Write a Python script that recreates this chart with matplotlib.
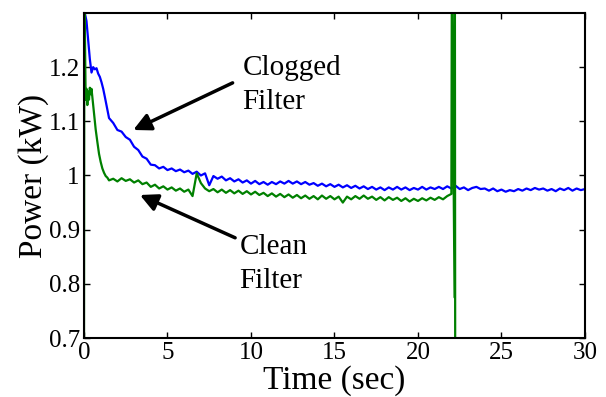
import numpy as np
import matplotlib
matplotlib.use("Agg")
import matplotlib.pyplot as plt

# =========================
# DATA
# =========================

# clogged filter - first second, uneven sampling
clog_t_start = [0.05, 0.15, 0.25, 0.35, 0.45, 0.55, 0.65, 0.75, 0.85, 0.95,
                1.05, 1.15, 1.25, 1.50, 1.75]
clog_p_start = [1.300, 1.285, 1.250, 1.215, 1.190, 1.200, 1.196, 1.198, 1.188, 1.182,
                1.172, 1.160, 1.145, 1.106, 1.097]

# clogged filter - 2 s to 30 s, four samples per second (one row = one second)
clog_p_rest = [
    1.084, 1.081, 1.071, 1.066,
    1.053, 1.047, 1.035, 1.031,
    1.020, 1.019, 1.013, 1.016,
    1.010, 1.013, 1.008, 1.011,
    1.006, 1.009, 1.003, 1.007,
    1.000, 1.004, 0.982, 0.999,
    0.994, 0.998, 0.991, 0.995,
    0.989, 0.993, 0.987, 0.991,
    0.985, 0.990, 0.984, 0.988,
    0.983, 0.988, 0.984, 0.989,
    0.985, 0.990, 0.985, 0.989,
    0.984, 0.988, 0.983, 0.986,
    0.981, 0.985, 0.980, 0.984,
    0.979, 0.983, 0.978, 0.982,
    0.977, 0.981, 0.976, 0.980,
    0.975, 0.979, 0.974, 0.978,
    0.973, 0.978, 0.974, 0.979,
    0.974, 0.978, 0.973, 0.977,
    0.974, 0.979, 0.974, 0.978,
    0.975, 0.979, 0.975, 0.980,
    0.976, 0.981, 0.975, 0.978,
    0.973, 0.977, 0.979, 0.975,
    0.976, 0.972, 0.976, 0.971,
    0.974, 0.970, 0.973, 0.971,
    0.975, 0.972, 0.976, 0.973,
    0.977, 0.974, 0.976, 0.972,
    0.975, 0.971, 0.976, 0.973,
    0.977, 0.972, 0.976, 0.973,
    0.975,
]

# clean filter - start-up transient
clean_t_start = [0.00, 0.02, 0.06, 0.10, 0.15, 0.20, 0.25, 0.30, 0.35, 0.40,
                 0.45, 0.50, 0.60, 0.70, 0.80, 0.90, 1.00, 1.10, 1.20, 1.30,
                 1.40, 1.50]
clean_p_start = [0.650, 1.320, 1.250, 1.140, 1.160, 1.130, 1.155, 1.140, 1.162, 1.150,
                 1.160, 1.145, 1.115, 1.085, 1.062, 1.040, 1.025, 1.013, 1.005, 0.999,
                 0.996, 0.991]

# clean filter - 1.75 s to 22 s, four samples per second
clean_p_rest = [
    0.994,
    0.989, 0.995, 0.990, 0.993,
    0.987, 0.991, 0.984, 0.987,
    0.979, 0.983, 0.976, 0.980,
    0.974, 0.978, 0.972, 0.976,
    0.970, 0.974, 0.962, 1.004,
    0.986, 0.976, 0.971, 0.975,
    0.969, 0.974, 0.968, 0.973,
    0.967, 0.972, 0.966, 0.971,
    0.965, 0.970, 0.964, 0.968,
    0.962, 0.967, 0.961, 0.966,
    0.960, 0.965, 0.959, 0.964,
    0.958, 0.963, 0.957, 0.962,
    0.956, 0.963, 0.957, 0.962,
    0.956, 0.961, 0.950, 0.961,
    0.956, 0.962, 0.957, 0.963,
    0.957, 0.961, 0.955, 0.960,
    0.954, 0.960, 0.955, 0.959,
    0.953, 0.958, 0.952, 0.957,
    0.953, 0.958, 0.954, 0.959,
    0.955, 0.960, 0.956, 0.962,
    0.966,
]

# clean filter - shut-off spike at ~22 s
clean_t_end = [22.03, 22.19, 22.21, 22.23]
clean_p_end = [1.400, 0.775, 1.400, 0.600]

clog_t = np.array(clog_t_start + list(2.0 + 0.25 * np.arange(len(clog_p_rest))))
clog_p = np.array(clog_p_start + clog_p_rest)
clean_t = np.array(clean_t_start + list(1.75 + 0.25 * np.arange(len(clean_p_rest))) + clean_t_end)
clean_p = np.array(clean_p_start + clean_p_rest + clean_p_end)

# =========================
# PLOT
# =========================

plt.rcParams["font.family"] = ["Liberation Serif", "DejaVu Serif"]

fig = plt.figure(figsize=(6.06, 3.97), dpi=100)
ax = fig.add_axes([0.1386, 0.1486, 0.8267, 0.8187])

ax.plot(clog_t, clog_p, color="#0000ff", lw=1.6)
ax.plot(clean_t, clean_p, color="#008000", lw=1.6)

ax.set_xlim(0, 30)
ax.set_ylim(0.7, 1.3)
ax.set_xticks([0, 5, 10, 15, 20, 25, 30])
ax.set_yticks([0.7, 0.8, 0.9, 1.0, 1.1, 1.2])
ax.set_yticklabels(["0.7", "0.8", "0.9", "1", "1.1", "1.2"])
ax.tick_params(direction="in", top=True, right=True, length=4, width=1,
               labelsize=18, pad=3)
for s in ax.spines.values():
    s.set_linewidth(1.5)

ax.set_xlabel("Time (sec)", fontsize=24, labelpad=1)
ax.set_ylabel("Power (kW)", fontsize=24, labelpad=0)

arrow = dict(arrowstyle="-|>", color="black", lw=2.5, mutation_scale=26,
             shrinkA=0, shrinkB=0)
ax.annotate("", xy=(2.95, 1.084), xytext=(8.9, 1.171), arrowprops=arrow)
ax.annotate("", xy=(3.35, 0.964), xytext=(9.05, 0.885), arrowprops=arrow)

ax.text(9.5, 1.167, "Clogged\nFilter", fontsize=21, ha="left", va="center",
        linespacing=1.4)
ax.text(9.3, 0.837, "Clean\nFilter", fontsize=21, ha="left", va="center",
        linespacing=1.4)

fig.savefig("out.png", dpi=100)
